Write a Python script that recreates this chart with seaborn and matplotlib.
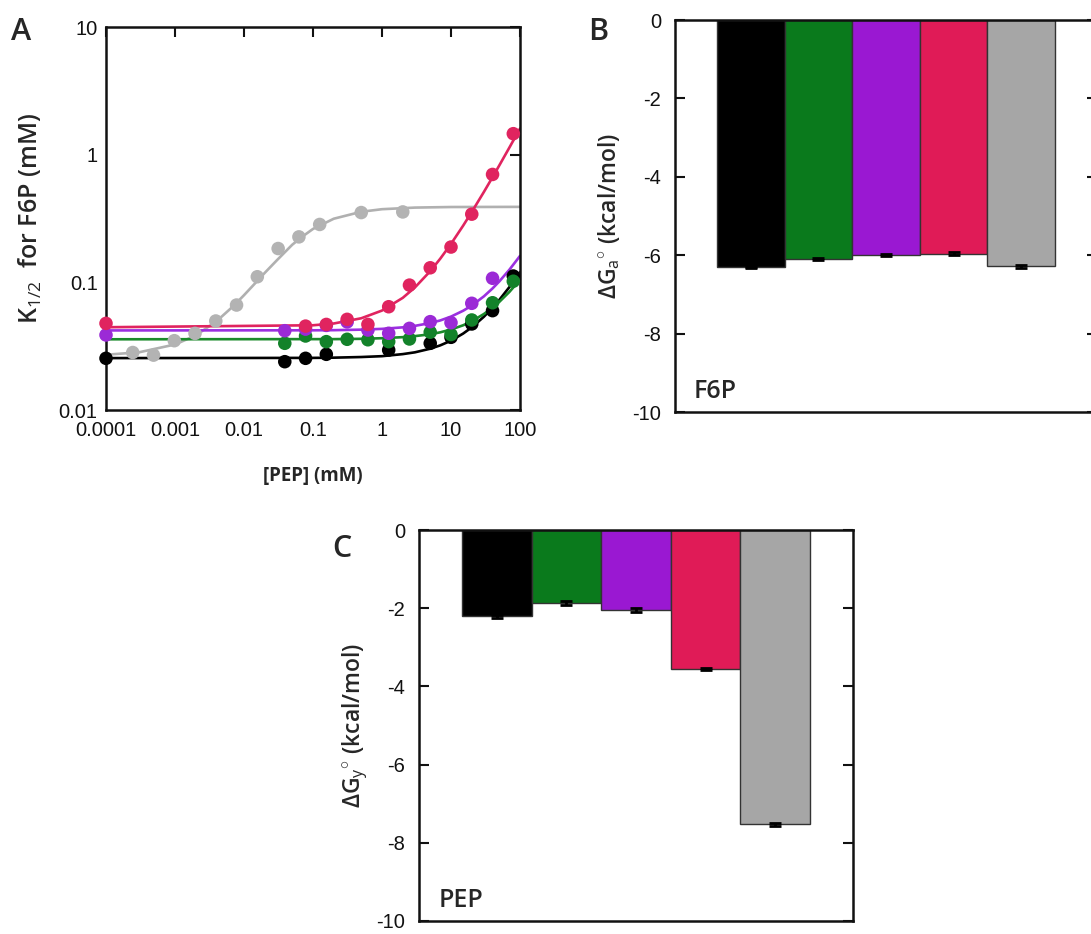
import numpy as np
import pandas as pd
import matplotlib
matplotlib.use("Agg")
import matplotlib.pyplot as plt
import seaborn as sns

# ---------------- Panel A data ----------------
gray_x = [2.44e-4, 4.88e-4, 9.77e-4, 1.95e-3, 3.9e-3, 7.8e-3, 0.0156, 0.03125, 0.0625, 0.125, 0.5, 2.0]
gray_y = [0.0282, 0.0269, 0.0349, 0.0398, 0.0498, 0.0664, 0.1106, 0.184, 0.227, 0.284, 0.352, 0.356]

red_x = [1e-4, 0.078, 0.156, 0.3125, 0.625, 1.25, 2.5, 5, 10, 20, 40, 80]
red_y = [0.0477, 0.0454, 0.0468, 0.0513, 0.0468, 0.0644, 0.0951, 0.130, 0.189, 0.342, 0.700, 1.46]

purple_x = [1e-4, 0.039, 0.078, 0.156, 0.3125, 0.625, 1.25, 2.5, 5, 10, 20, 40]
purple_y = [0.0387, 0.0418, 0.0430, 0.0460, 0.0490, 0.0423, 0.0399, 0.0436, 0.0492, 0.0483, 0.0685, 0.1076]

green_x = [0.039, 0.078, 0.156, 0.3125, 0.625, 1.25, 2.5, 5, 10, 20, 40, 80]
green_y = [0.0333, 0.0380, 0.0343, 0.0358, 0.0355, 0.0343, 0.0360, 0.0407, 0.0390, 0.0507, 0.0692, 0.102]

black_x = [1e-4, 0.039, 0.078, 0.156, 1.25, 5, 10, 20, 40, 80]
black_y = [0.0254, 0.0239, 0.0254, 0.0273, 0.0295, 0.0333, 0.0371, 0.0472, 0.0600, 0.112]

# fitted curves
gray_fit_x = [1e-4, 3e-4, 1e-3, 2e-3, 4e-3, 7e-3, 0.01, 0.015, 0.02, 0.03, 0.05, 0.07, 0.1, 0.2, 0.5, 1, 3, 10, 100]
gray_fit_y = [0.0271, 0.0283, 0.0326, 0.0384, 0.0496, 0.0651, 0.0793, 0.1003, 0.1187, 0.149, 0.197, 0.228, 0.262, 0.315, 0.357, 0.374, 0.385, 0.389, 0.390]

fit_x = [1e-4, 0.1, 0.2, 0.5, 1, 2, 3, 5, 7, 10, 15, 20, 30, 40, 50, 70, 100]
red_fit_y = [0.0445, 0.0461, 0.0476, 0.0523, 0.0601, 0.0756, 0.0912, 0.1223, 0.1534, 0.200, 0.278, 0.356, 0.511, 0.666, 0.822, 1.134, 1.60]
purple_fit_y = [0.0420, 0.0421, 0.0422, 0.0426, 0.0432, 0.0444, 0.0456, 0.0480, 0.0503, 0.0539, 0.0599, 0.0658, 0.0777, 0.0896, 0.1015, 0.1253, 0.161]
green_fit_y = [0.0358, 0.0359, 0.0359, 0.0361, 0.0365, 0.0372, 0.0379, 0.0392, 0.0406, 0.0427, 0.0461, 0.0496, 0.0565, 0.0633, 0.0702, 0.0840, 0.1046]
black_fit_y = [0.0255, 0.0256, 0.0257, 0.0260, 0.0264, 0.0274, 0.0283, 0.0302, 0.0321, 0.0349, 0.0397, 0.0444, 0.0538, 0.0633, 0.0727, 0.0916, 0.120]

# ---------------- Panel B / C data ----------------
variants = ["v1", "v2", "v3", "v4", "v5"]
bar_colors = ["#000000", "#0a7a1c", "#9a18d2", "#e01b57", "#a6a6a6"]
dGa = [-6.31, -6.10, -5.99, -5.96, -6.28]
dGa_err = [0.02, 0.03, 0.02, 0.04, 0.04]
dGy = [-2.21, -1.87, -2.04, -3.55, -7.53]
dGy_err = [0.03, 0.05, 0.05, 0.03, 0.03]

pt_colors = {"black": "#000000", "green": "#13822a", "purple": "#9b2ad6", "red": "#e0245f", "gray": "#b3b3b3"}
line_colors = {"black": "#000000", "green": "#1a8a2a", "purple": "#9b30e0", "red": "#e0245f", "gray": "#b0b0b0"}

sns.set_theme(style="white")
plt.rcParams["font.family"] = ["Liberation Sans", "DejaVu Sans"]
plt.rcParams["mathtext.fontset"] = "custom"
plt.rcParams["mathtext.rm"] = "Open Sans"
plt.rcParams["mathtext.it"] = "Open Sans:italic"
plt.rcParams["mathtext.bf"] = "Open Sans:bold"

W, H = 1091, 934
fig = plt.figure(figsize=(W / 100, H / 100), dpi=100)
fig.patch.set_facecolor("white")

def frac(left, top, right, bottom):
    return [left / W, 1 - bottom / H, (right - left) / W, (bottom - top) / H]

OPEN = ["Open Sans", "DejaVu Sans"]
TICK_SIZE = 14.5

# ---------------- Panel A ----------------
axA = fig.add_axes(frac(106, 27, 520, 410))
series = [
    ("gray", gray_x, gray_y, gray_fit_x, gray_fit_y),
    ("black", black_x, black_y, fit_x, black_fit_y),
    ("green", green_x, green_y, fit_x, green_fit_y),
    ("purple", purple_x, purple_y, fit_x, purple_fit_y),
    ("red", red_x, red_y, fit_x, red_fit_y),
]
for name, px, py, fx, fy in series:
    sns.lineplot(x=fx, y=fy, color=line_colors[name], lw=1.9, ax=axA, estimator=None, sort=False)
for name, px, py, fx, fy in series:
    sns.scatterplot(x=px, y=py, color=pt_colors[name], s=95, edgecolor="none", ax=axA, zorder=3, clip_on=False)
axA.set_xscale("log")
axA.set_yscale("log")
axA.set_xlim(1e-4, 100)
axA.set_ylim(0.01, 10)
axA.set_xticks([1e-4, 1e-3, 1e-2, 0.1, 1, 10, 100])
axA.set_xticklabels(["0.0001", "0.001", "0.01", "0.1", "1", "10", "100"])
axA.set_yticks([0.01, 0.1, 1, 10])
axA.set_yticklabels(["0.01", "0.1", "1", "10"])
axA.minorticks_off()
axA.tick_params(which="both", direction="in", top=True, right=True, length=7, width=1.5,
                labelsize=TICK_SIZE, pad=6, colors="#111111")
axA.tick_params(axis="x", pad=8)
for s in axA.spines.values():
    s.set_linewidth(1.8)
    s.set_color("#111111")
axA.set_xlabel("[PEP] (mM)", family=OPEN, fontweight="bold", fontsize=13.5)
axA.set_ylabel(r"K$_{\mathit{1/2}}$  for F6P (mM)", family=OPEN, fontweight="semibold", fontsize=18)
axA.xaxis.set_label_coords(0.5, -0.145)
axA.yaxis.set_label_coords(-0.15, 0.5)
axA.grid(False)

# ---------------- Panel B / C ----------------
def bar_panel(ax, vals, errs, ylabel, tag):
    df = pd.DataFrame({"variant": variants, "dG": vals})
    sns.barplot(data=df, x="variant", y="dG", hue="variant", palette=bar_colors, width=1.0,
                saturation=1, edgecolor="#333333", linewidth=1.0, legend=False, ax=ax, errorbar=None)
    ax.errorbar(x=np.arange(len(vals)), y=vals, yerr=errs, fmt="none", ecolor="black",
                elinewidth=2, capsize=4, capthick=2)
    ax.set_xlim(-1.12, 5.12)
    ax.set_ylim(-10, 0)
    ax.set_yticks([0, -2, -4, -6, -8, -10])
    ax.set_yticklabels(["0", "-2", "-4", "-6", "-8", "-10"])
    ax.set_xticks([])
    ax.set_xlabel("")
    ax.set_ylabel(ylabel, family=OPEN, fontweight="semibold", fontsize=16.5)
    ax.tick_params(axis="y", direction="in", left=True, right=True, length=7, width=1.5,
                   labelsize=TICK_SIZE, pad=10, colors="#111111")
    for s in ax.spines.values():
        s.set_linewidth(1.8)
        s.set_color("#111111")
    ax.text(0.045, 0.02, tag, transform=ax.transAxes, ha="left", va="bottom",
            family=OPEN, fontweight="semibold", fontsize=18)
    ax.grid(False)

axB = fig.add_axes(frac(675, 20, 1097, 412))
bar_panel(axB, dGa, dGa_err, r"ΔG$_{\mathrm{a}}$$^{\circ}$ (kcal/mol)", "F6P")
axB.yaxis.set_label_coords(-0.125, 0.5)

axC = fig.add_axes(frac(419, 530, 853, 921))
bar_panel(axC, dGy, dGy_err, r"ΔG$_{\mathrm{y}}$$^{\circ}$ (kcal/mol)", "PEP")
axC.yaxis.set_label_coords(-0.113, 0.5)

# panel letters
for letter, x, y in [("A", 21, 32), ("B", 598, 32), ("C", 342, 549)]:
    fig.text(x / W, 1 - y / H, letter, ha="center", va="center",
             family=OPEN, fontweight="semibold", fontsize=22)

fig.savefig("out.png", dpi=100, facecolor="white")
